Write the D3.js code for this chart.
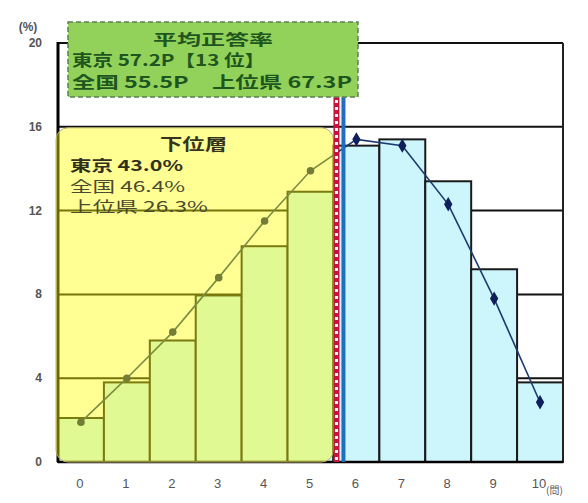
<!DOCTYPE html>
<html>
<head>
<meta charset="utf-8">
<script src="https://cdn.jsdelivr.net/npm/d3@7"></script>
<style>
body { margin: 0; background: #fff; }
svg { display: block; }
</style>
</head>
<body>
<svg id="chart" width="588" height="503"></svg>
<script>
// data
var categories = ["0", "1", "2", "3", "4", "5", "6", "7", "8", "9", "10"];
var barValues  = [2.1, 3.8, 5.8, 7.95, 10.3, 12.9, 15.1, 15.4, 13.4, 9.2, 3.8];
var lineValues = [1.9, 4.0, 6.2, 8.8, 11.5, 13.9, 15.4, 15.1, 12.3, 7.8, 2.85];
var yTicks = [0, 4, 8, 12, 16, 20];
var lowerLast = "5";      // last category of the lower group
var lowerTop = 16;        // top of the lower group box

var boxTitle = "平均正答率";
var boxLines = ["東京 57.2P【13 位】", "全国 55.5P　上位県 67.3P"];
var lowerTitle = "下位層";
var lowerLines = ["東京 43.0%", "全国 46.4%", "上位県 26.3%"];
var yUnit = "(%)";
var xUnit = "(問)";

var svg = d3.select("#chart");
// note: "top" is taken by window.top, so plot edges get a prefix
var plotL = 58, plotR = 563, plotT = 43, plotB = 462;

var x = d3.scaleBand().domain(categories).range([plotL, plotR]).padding(0);
var y = d3.scaleLinear().domain([0, 20]).range([plotB, plotT]);

svg.append("rect").attr("width", 588).attr("height", 503).attr("fill", "#fff");

// gridlines
svg.append("g").selectAll("line")
    .data(yTicks.filter(function (d) { return d > 0; }))
    .enter().append("line")
    .attr("x1", plotL).attr("x2", plotR)
    .attr("y1", function (d) { return y(d); })
    .attr("y2", function (d) { return y(d); })
    .attr("stroke", "#111").attr("stroke-width", 2);

// bars
svg.append("g").selectAll("rect")
    .data(barValues)
    .enter().append("rect")
    .attr("x", function (d, i) { return x(categories[i]); })
    .attr("width", x.bandwidth())
    .attr("y", function (d) { return y(d); })
    .attr("height", function (d) { return y(0) - y(d); })
    .attr("fill", "#ccf5fc")
    .attr("stroke", "#1a1a1a").attr("stroke-width", 2);

// axes frame
svg.append("line").attr("x1", plotL).attr("x2", plotL).attr("y1", plotT - 1).attr("y2", plotB)
    .attr("stroke", "#000").attr("stroke-width", 3);
svg.append("line").attr("x1", plotR).attr("x2", plotR).attr("y1", plotT).attr("y2", plotB)
    .attr("stroke", "#222").attr("stroke-width", 2);
svg.append("line").attr("x1", plotL).attr("x2", plotR).attr("y1", plotB).attr("y2", plotB)
    .attr("stroke", "#000").attr("stroke-width", 2.5);

// line series
var lineGen = d3.line()
    .x(function (d, i) { return x(categories[i]) + x.bandwidth() / 2; })
    .y(function (d) { return y(d); });

svg.append("path")
    .attr("d", lineGen(lineValues))
    .attr("fill", "none")
    .attr("stroke", "#1d3b6e").attr("stroke-width", 1.6);

var lastLow = categories.indexOf(lowerLast);
svg.append("g").selectAll("path")
    .data(lineValues)
    .enter().append("path")
    .attr("d", function (d, i) {
        // lower group marks look round under the yellow box
        var t = i <= lastLow ? d3.symbolCircle : d3.symbolDiamond;
        return d3.symbol().type(t).size(i <= lastLow ? 45 : 60)();
    })
    .attr("transform", function (d, i) {
        return "translate(" + (x(categories[i]) + x.bandwidth() / 2) + "," + y(d) + ")";
    })
    .attr("fill", "#0e1f5c");

// translucent yellow box over the lower group
var lowerRight = x(lowerLast) + x.bandwidth();
svg.append("rect")
    .attr("x", plotL - 2).attr("y", y(lowerTop) + 1)
    .attr("width", lowerRight - plotL + 2).attr("height", y(0) - y(lowerTop) - 1)
    .attr("rx", 12)
    .attr("fill", "#ffff00").attr("fill-opacity", 0.42)
    .attr("stroke", "#b8b070").attr("stroke-width", 1);

// divider: red/white dotted + blue
svg.append("line")
    .attr("x1", lowerRight + 3).attr("x2", lowerRight + 3)
    .attr("y1", plotT).attr("y2", plotB)
    .attr("stroke", "#c4143c").attr("stroke-width", 6);
svg.append("line")
    .attr("x1", lowerRight + 3).attr("x2", lowerRight + 3)
    .attr("y1", plotT + 1).attr("y2", plotB)
    .attr("stroke", "#fff").attr("stroke-width", 3)
    .attr("stroke-dasharray", "3,4");
svg.append("line")
    .attr("x1", lowerRight + 10).attr("x2", lowerRight + 10)
    .attr("y1", plotT).attr("y2", plotB)
    .attr("stroke", "#1f6fbe").attr("stroke-width", 4);

// green summary box
svg.append("rect")
    .attr("x", 68).attr("y", 22).attr("width", 290).attr("height", 75)
    .attr("fill", "#92d25a")
    .attr("stroke", "#5f7f55").attr("stroke-width", 1.5)
    .attr("stroke-dasharray", "5,3");

var cjk = "'Noto Sans CJK JP', 'Noto Sans', sans-serif";

svg.append("text")
    .attr("x", 153).attr("y", 45)
    .attr("textLength", 120).attr("lengthAdjust", "spacingAndGlyphs")
    .attr("font-family", cjk).attr("font-size", 15).attr("font-weight", "bold")
    .attr("fill", "#1f561f")
    .text(boxTitle);

var boxWidths = [193, 280];
svg.append("g").selectAll("text")
    .data(boxLines)
    .enter().append("text")
    .attr("x", 72)
    .attr("y", function (d, i) { return 66 + i * 22; })
    .attr("textLength", function (d, i) { return boxWidths[i]; })
    .attr("lengthAdjust", "spacingAndGlyphs")
    .attr("font-family", cjk).attr("font-size", 16).attr("font-weight", "bold")
    .attr("fill", "#1f561f")
    .text(function (d) { return d; });

// lower group text
svg.append("text")
    .attr("x", 160).attr("y", 150)
    .attr("textLength", 67).attr("lengthAdjust", "spacingAndGlyphs")
    .attr("font-family", cjk).attr("font-size", 16).attr("font-weight", "bold")
    .attr("fill", "#35351f")
    .text(lowerTitle);

var lowerWidths = [113, 115, 138];
svg.append("g").selectAll("text")
    .data(lowerLines)
    .enter().append("text")
    .attr("x", 70)
    .attr("y", function (d, i) { return 171 + i * 20.5; })
    .attr("textLength", function (d, i) { return lowerWidths[i]; })
    .attr("lengthAdjust", "spacingAndGlyphs")
    .attr("font-family", cjk).attr("font-size", 15)
    .attr("fill", function (d, i) { return i === 0 ? "#30301c" : "#4a4a30"; })
    .attr("font-weight", function (d, i) { return i === 0 ? "bold" : "normal"; })
    .text(function (d) { return d; });

// tick labels
var sans = "'Liberation Sans', Arial, sans-serif";
svg.append("g").selectAll("text")
    .data(yTicks)
    .enter().append("text")
    .attr("x", 42)
    .attr("y", function (d) { return y(d) + 4; })
    .attr("text-anchor", "end")
    .attr("font-family", sans).attr("font-size", 12).attr("font-weight", "bold")
    .attr("fill", "#555")
    .text(function (d) { return d; });

svg.append("text")
    .attr("x", 28).attr("y", 31).attr("text-anchor", "middle")
    .attr("font-family", sans).attr("font-size", 12).attr("font-weight", "bold")
    .attr("fill", "#555")
    .text(yUnit);

svg.append("g").selectAll("text")
    .data(categories)
    .enter().append("text")
    .attr("x", function (d) { return x(d) + x.bandwidth() / 2 - 1; })
    .attr("y", 488)
    .attr("text-anchor", "middle")
    .attr("font-family", sans).attr("font-size", 13)
    .attr("fill", "#555")
    .text(function (d) { return d; });

svg.append("text")
    .attr("x", 546).attr("y", 494)
    .attr("font-family", cjk).attr("font-size", 10)
    .attr("fill", "#555")
    .text(xUnit);
</script>
</body>
</html>
